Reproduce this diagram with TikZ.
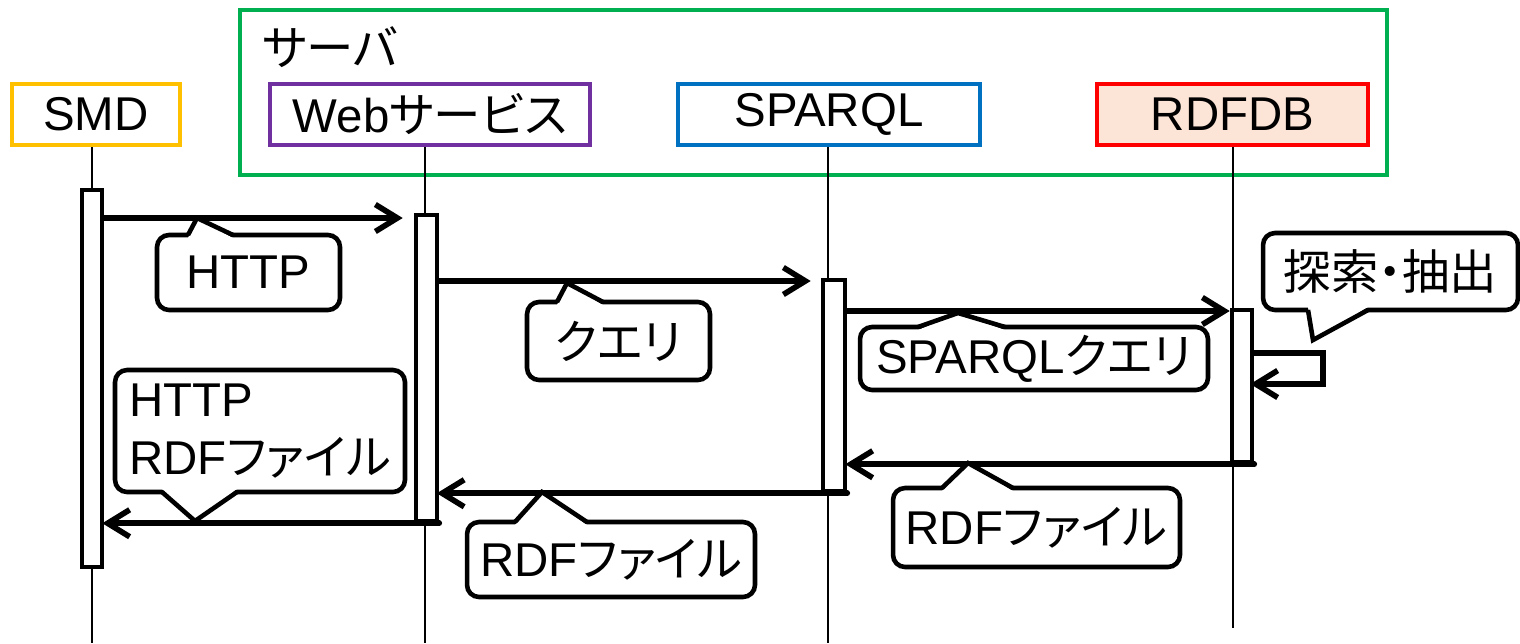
\documentclass[tikz,border=0pt]{standalone}
\usepackage{fontspec}
\setmainfont{Liberation Sans}
\newfontfamily\jp[RawFeature=+palt]{Noto Sans CJK JP}
\usetikzlibrary{arrows.meta}
\definecolor{cgreen}{HTML}{00B050}
\definecolor{corange}{HTML}{FFC000}
\definecolor{cpurple}{HTML}{7030A0}
\definecolor{cblue}{HTML}{0070C0}
\definecolor{cred}{HTML}{FF0000}
\definecolor{cpeach}{HTML}{FCE4D6}
\begin{document}
\begin{tikzpicture}[x=0.02cm,y=-0.02cm,
  every node/.style={font=\fontsize{27}{33}\selectfont},
  header/.style={draw, line width=2.5pt, minimum height=1.22cm, inner sep=0pt},
  lifeline/.style={line width=1.1pt},
  actbar/.style={draw, fill=white, line width=2.6pt, inner sep=0pt},
  msg/.style={line width=3.2pt, -{Straight Barb[length=0.44cm,width=0.54cm]}, line cap=round, line join=miter},
  callbox/.style={draw, fill=white, line width=2.6pt, rounded corners=0.24cm, inner sep=0pt},
  pointer/.style={line width=2.6pt, line join=miter},
]
\useasboundingbox (0,0) rectangle (1520,643);

% server group
\node[draw=cgreen, line width=2.5pt, minimum width=22.94cm, minimum height=3.3cm, inner sep=0pt] (server) at (813.5,92.5) {};
\node[anchor=west, inner sep=0pt] (srvlabel) at (262,47) {\jp サーバ};

% headers
\node[header, draw=corange, minimum width=3.36cm] (smd) at (96,114.5) {SMD};
\node[header, draw=cpurple, minimum width=6.4cm] (web) at (430,114.5) {Web{\jp サービス}};
\node[header, draw=cblue, minimum width=6.04cm] (sparql) at (829,114.5) {SPARQL};
\node[header, draw=cred, fill=cpeach, minimum width=5.42cm] (rdfdb) at (1232.5,114.5) {RDFDB};

% lifelines
\coordinate (smdend) at (92,643);
\coordinate (webend) at (425,643);
\coordinate (spqend) at (828,643);
\coordinate (dbend) at (1233,628);
\draw[lifeline] (smd.south -| smdend) -- (smdend);
\draw[lifeline] (web.south -| webend) -- (webend);
\draw[lifeline] (sparql.south -| spqend) -- (spqend);
\draw[lifeline] (rdfdb.south -| dbend) -- (dbend);

% activation bars
\node[actbar, minimum width=0.4cm, minimum height=7.54cm] (smdbar) at (92,378.5) {};
\node[actbar, minimum width=0.42cm, minimum height=6.12cm] (webbar) at (426.5,368) {};
\node[actbar, minimum width=0.44cm, minimum height=4.22cm] (spqbar) at (834,385.5) {};
\node[actbar, minimum width=0.4cm, minimum height=3.04cm] (dbbar) at (1242,386) {};

% message levels
\coordinate (m1) at (0,218);
\coordinate (m2) at (0,281);
\coordinate (m3) at (0,311);
\coordinate (s1) at (0,353);
\coordinate (s2) at (0,384);

% messages
\draw[msg, shorten >=0.22cm] (smdbar.east |- m1) -- (webbar.west |- m1);
\draw[msg, shorten >=0.2cm] (webbar.east |- m2) -- (spqbar.west |- m2);
\draw[msg] (spqbar.east |- m3) -- (dbbar.west |- m3);
\draw[msg, shorten >=-0.08cm] (dbbar.east |- s1) -- ++(69,0) -- ++(0,31) -- (dbbar.east |- s2);
\draw[msg, shorten >=-0.04cm] (dbbar.south east) -- (spqbar.east |- dbbar.south);
\draw[msg, shorten >=-0.05cm] (spqbar.south east) -- (webbar.east |- spqbar.south);
\draw[msg, shorten >=-0.04cm] (webbar.south east) -- (smdbar.east |- webbar.south);

% callouts
\node[callbox, minimum width=3.66cm, minimum height=1.5cm] (c1) at (248.5,272.5) {HTTP};
\fill[white] (188,238) -- (197,218) -- (233,238) -- cycle;
\draw[pointer] (188,235) -- (197,218) -- (233,235);

\node[callbox, minimum width=3.66cm, minimum height=1.56cm] (c2) at (618.5,341) {\jp クエリ};
\fill[white] (557,305) -- (567,283) -- (603,305) -- cycle;
\draw[pointer] (557,302) -- (567,283) -- (603,302);

\node[callbox, minimum width=6.96cm, minimum height=1.26cm] (c3) at (1034,358.5) {SPARQL{\jp クエリ}};
\fill[white] (918,330) -- (958,313) -- (1005,330) -- cycle;
\draw[pointer] (918,327) -- (958,313) -- (1005,327);

\node[callbox, minimum width=5.1cm, minimum height=1.54cm] (c4) at (1390.5,271.5) {\jp 探索・抽出};
\fill[white] (1308,307) -- (1313,340) -- (1368,307) -- cycle;
\draw[pointer] (1308,310) -- (1313,340) -- (1368,310);

\node[callbox, minimum width=5.8cm, minimum height=2.44cm, align=left] (c5) at (260,431) {HTTP\\RDF{\jp ファイル}};
\fill[white] (162,489) -- (195,521) -- (237,489) -- cycle;
\draw[pointer] (162,492) -- (195,521) -- (237,492);

\node[callbox, minimum width=5.76cm, minimum height=1.5cm] (c6) at (611,559.5) {RDF{\jp ファイル}};
\fill[white] (515,525) -- (542,492) -- (587,525) -- cycle;
\draw[pointer] (515,522) -- (542,492) -- (587,522);

\node[callbox, minimum width=5.74cm, minimum height=1.58cm] (c7) at (1036.5,527.5) {RDF{\jp ファイル}};
\fill[white] (942,491) -- (968,463) -- (1013,491) -- cycle;
\draw[pointer] (942,488) -- (968,463) -- (1013,488);
\end{tikzpicture}
\end{document}
